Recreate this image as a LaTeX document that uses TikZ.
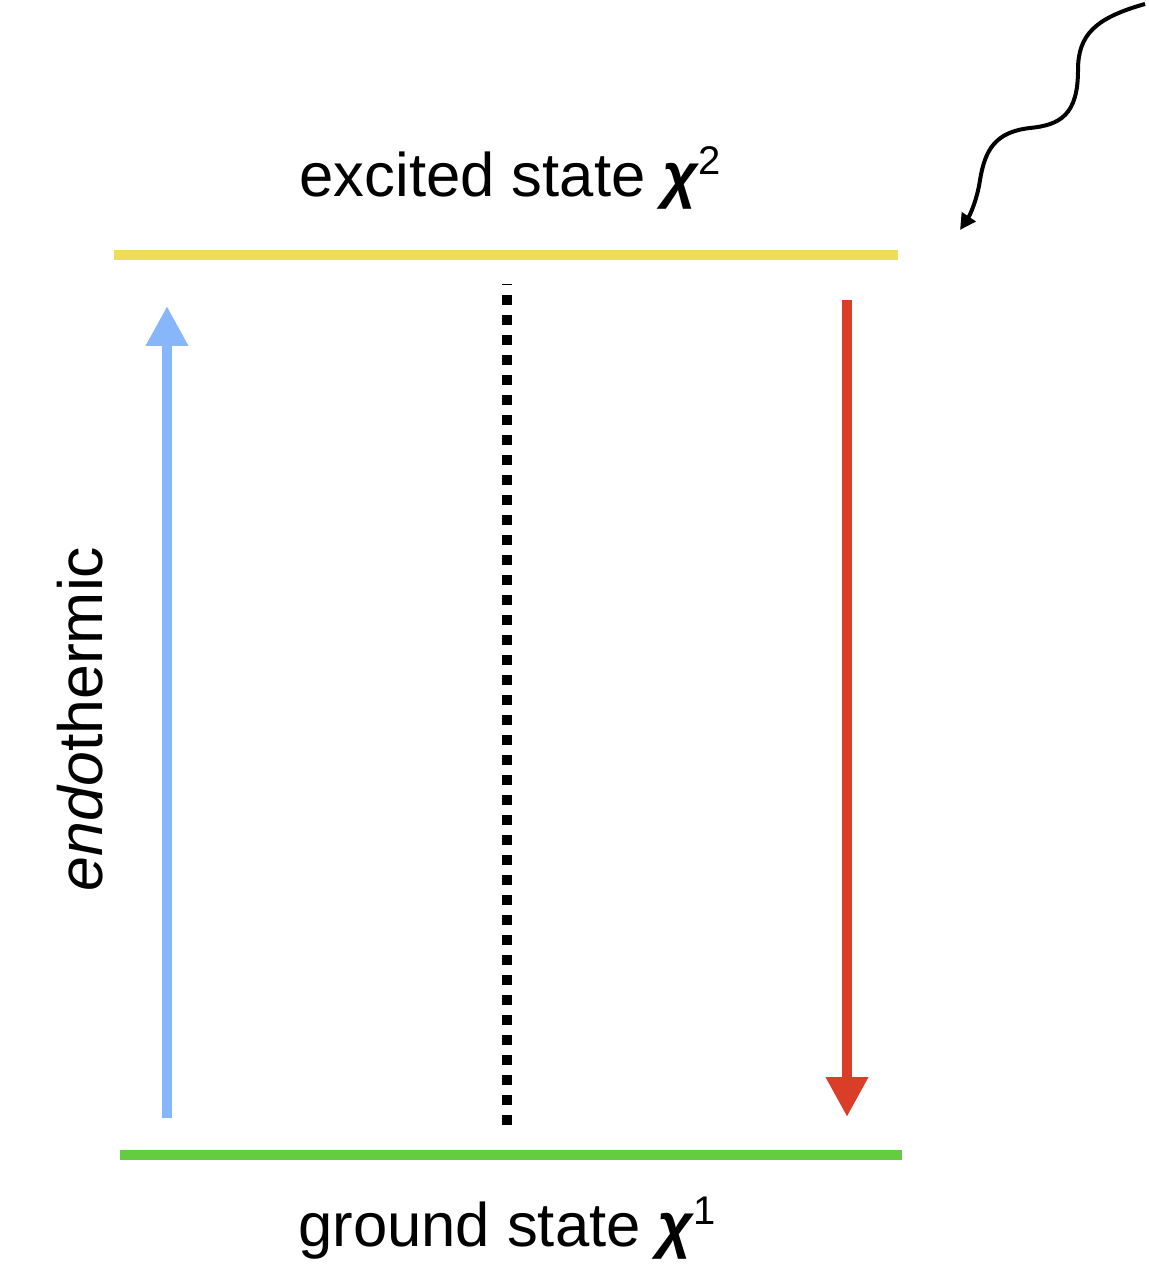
\documentclass[tikz,border=0pt]{standalone}
\usepackage{fontspec}
\setmainfont{Liberation Sans}
\usetikzlibrary{arrows.meta}
\usetikzlibrary{positioning}
\definecolor{excitedcol}{RGB}{238,220,90}
\definecolor{groundcol}{RGB}{99,204,63}
\definecolor{upcol}{RGB}{136,182,250}
\definecolor{downcol}{RGB}{218,62,40}
\newcommand\chisym{{\bfseries\itshape χ}}
\tikzset{
	statetext/.style={font=\fontsize{30.8}{36}\selectfont, anchor=base},
}

\begin{document}
\begin{tikzpicture}[x=0.5pt,y=-0.5pt,
	level/.style={line width=5pt},
	trans/.style={line width=5pt,-{Triangle[length=20pt,width=20pt]}},
	photon/.style={line width=2pt,-{Triangle[length=8pt,width=8pt]}}]
	\useasboundingbox (0,0) rectangle (1148,1288);

	% level end points
	\coordinate (X1) at (114,255);
	\coordinate (X2) at (898,255);
	\coordinate (G1) at (120,1155);
	\coordinate (G2) at (902,1155);

	% transition end points
	\coordinate (U1) at (167,1118); % up
	\coordinate (U2) at (167,306);
	\coordinate (D1) at (847,300); % down
	\coordinate (D2) at (847,1117);
	\coordinate (M1) at (507,1125); % middle
	\coordinate (M2) at (507,284);

	% photon
	\coordinate (W1) at (1145,4);
	\coordinate (W2) at (960,230);

	% levels
	\draw[level, excitedcol] (X1) -- (X2);
	\draw[level, groundcol] (G1) -- (G2);

	% transitions
	\draw[trans, upcol] (U1) -- (U2);
	\draw[trans, downcol] (D1) -- (D2);
	\draw[line width=5pt, dash pattern=on 5pt off 5pt] (M1) -- (M2);

	% incoming photon
	\draw[photon] (W1) .. controls (1095,18) and (1078,35) .. (1078,70)
		.. controls (1078,115) and (1060,125) .. (1030,128)
		.. controls (995,132) and (985,150) .. (980,180)
		.. controls (977,200) and (970,215) .. (W2);

	% labels
	\node[statetext] (excited) at (510,197) {excited state \chisym{\fontsize{20}{24}\selectfont\raisebox{0.55em}{2}}};
	\node[statetext] (ground) at (507,1246) {ground state \chisym{\fontsize{20}{24}\selectfont\raisebox{0.55em}{1}}};
	\node[font=\fontsize{31.3}{36}\selectfont, rotate=90] (endo) at (80,719) {{\itshape endo}thermic};

\end{tikzpicture}
\end{document}
